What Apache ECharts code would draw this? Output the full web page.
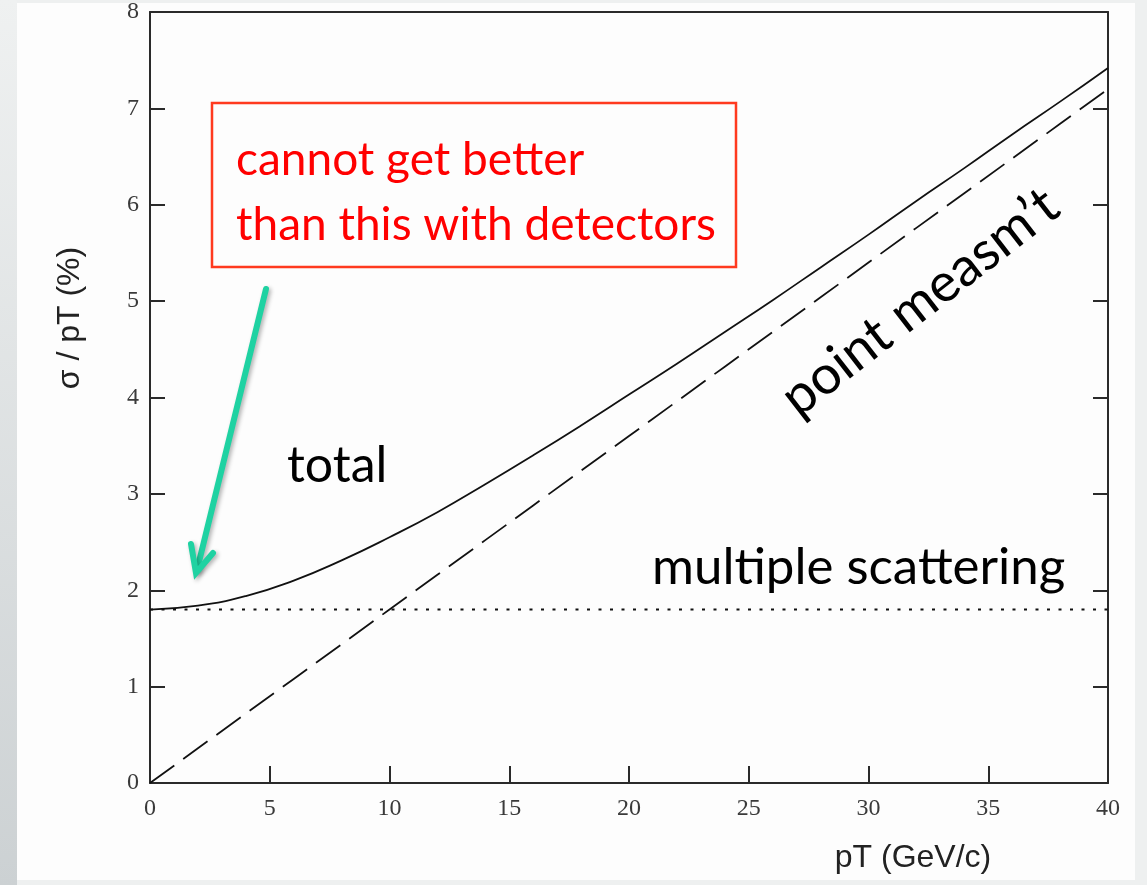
<!DOCTYPE html>
<html>
<head>
<meta charset="utf-8">
<script src="https://cdn.jsdelivr.net/npm/echarts@6/dist/echarts.min.js"></script>
<style>
html,body{margin:0;padding:0;}
#c{width:1147px;height:885px;
background:
 linear-gradient(#fdfdfd,#fdfdfd) 17px 3px / 1118px 877px no-repeat,
 linear-gradient(to bottom,#eff1f1,#ccd1d3) 0 0 / 17px 885px no-repeat,
 #eef0f0;}
</style>
</head>
<body>
<div id="c"></div>
<script>
// pT grid (GeV/c)
const pT = [0,2,4,6,8,10,12,14,16,18,20,22,24,26,28,30,32,34,36,38,40];
// total resolution sigma/pT (%)
const totalRes = [1.80,1.84,1.94,2.10,2.31,2.55,2.81,3.10,3.40,3.71,4.03,4.35,4.68,5.01,5.35,5.69,6.04,6.38,6.73,7.07,7.42];
// point measurement contribution (%)
const pointMeas = [0.00,0.36,0.72,1.08,1.44,1.80,2.16,2.52,2.88,3.24,3.60,3.96,4.32,4.68,5.04,5.40,5.76,6.12,6.48,6.84,7.20];
// multiple scattering contribution (%)
const multScatt = [1.80,1.80,1.80,1.80,1.80,1.80,1.80,1.80,1.80,1.80,1.80,1.80,1.80,1.80,1.80,1.80,1.80,1.80,1.80,1.80,1.80];
// axis ranges / ticks
const xRange = [0, 40, 5];
const yRange = [0, 8, 1];

const zip = (xs, ys) => xs.map((x, i) => [x, ys[i]]);

const axisCol = '#2a2a2a';
const tickFont = {fontFamily: 'Liberation Serif', fontSize: 24, color: '#3a3a3a'};
const anno = 'Lato';

const chart = echarts.init(document.getElementById('c'), null, {renderer: 'canvas'});
chart.setOption({
  backgroundColor: 'transparent',
  animation: false,
  grid: {left: 150, right: 39, top: 12, bottom: 102},
  xAxis: [{
    type: 'value', min: xRange[0], max: xRange[1], interval: xRange[2], position: 'bottom',
    axisLine: {show: true, onZero: false, lineStyle: {color: axisCol, width: 2}},
    axisTick: {show: true, inside: true, length: 17, lineStyle: {color: axisCol, width: 2}},
    axisLabel: Object.assign({margin: 14}, tickFont),
    splitLine: {show: false}
  }, {
    type: 'value', min: xRange[0], max: xRange[1], interval: xRange[2], position: 'top',
    axisLine: {show: true, onZero: false, lineStyle: {color: axisCol, width: 2}},
    axisTick: {show: false}, axisLabel: {show: false}, splitLine: {show: false}
  }],
  yAxis: [{
    type: 'value', min: yRange[0], max: yRange[1], interval: yRange[2], position: 'left',
    axisLine: {show: true, onZero: false, lineStyle: {color: axisCol, width: 2}},
    axisTick: {show: true, inside: true, length: 15, lineStyle: {color: axisCol, width: 2}},
    axisLabel: Object.assign({margin: 11}, tickFont),
    splitLine: {show: false}
  }, {
    type: 'value', min: yRange[0], max: yRange[1], interval: yRange[2], position: 'right',
    axisLine: {show: true, onZero: false, lineStyle: {color: axisCol, width: 2}},
    axisTick: {show: true, inside: true, length: 15, lineStyle: {color: axisCol, width: 2}},
    axisLabel: {show: false}, splitLine: {show: false}
  }],
  series: [{
    name: 'total', type: 'line', data: zip(pT, totalRes), showSymbol: false, smooth: true,
    lineStyle: {color: '#111', width: 1.8}
  }, {
    name: 'point measm\u2019t', type: 'line', data: zip(pT, pointMeas), showSymbol: false,
    lineStyle: {color: '#111', width: 1.8, type: [30, 11]}
  }, {
    name: 'multiple scattering', type: 'line', data: zip(pT, multScatt), showSymbol: false,
    lineStyle: {color: '#111', width: 2, type: [3, 8.5]}
  }],
  graphic: [
    {type: 'text', x: 70, y: 318, rotation: Math.PI / 2, style: {text: '\u03c3 / pT (%)', fontFamily: 'Liberation Sans', fontSize: 32, fill: '#222', align: 'center', verticalAlign: 'middle'}},
    {type: 'text', x: 913, y: 858, style: {text: 'pT (GeV/c)', fontFamily: 'Liberation Sans', fontSize: 32, fill: '#222', align: 'center', verticalAlign: 'middle'}},
    {type: 'rect', shape: {x: 212, y: 103, width: 524, height: 164}, style: {fill: 'none', stroke: '#ff3a1f', lineWidth: 2.5}},
    {type: 'text', x: 236, y: 160, style: {text: 'cannot get better', fontFamily: anno, fontSize: 46, fill: '#ff0000', align: 'left', verticalAlign: 'middle'}},
    {type: 'text', x: 236, y: 225, style: {text: 'than this with detectors', fontFamily: anno, fontSize: 46, fill: '#ff0000', align: 'left', verticalAlign: 'middle'}},
    {type: 'text', x: 287, y: 466, style: {text: 'total', fontFamily: anno, fontSize: 50, fill: '#000', align: 'left', verticalAlign: 'middle'}},
    {type: 'text', x: 652, y: 568, style: {text: 'multiple scattering', fontFamily: anno, fontSize: 51, fill: '#000', align: 'left', verticalAlign: 'middle'}},
    {type: 'text', x: 920, y: 302, rotation: 0.66, style: {text: 'point measm\u2019t', fontFamily: anno, fontSize: 54, fill: '#000', align: 'center', verticalAlign: 'middle'}},
    {type: 'polyline', shape: {points: [[266, 289], [197, 570]]}, style: {stroke: '#1fd2a2', lineWidth: 6, lineCap: 'round', shadowBlur: 4, shadowColor: 'rgba(0,0,0,0.3)', shadowOffsetX: 2, shadowOffsetY: 2}},
    {type: 'polyline', shape: {points: [[191, 544], [196, 573], [213, 553]]}, style: {stroke: '#1fd2a2', lineWidth: 6, lineCap: 'round', lineJoin: 'miter', fill: 'none', shadowBlur: 4, shadowColor: 'rgba(0,0,0,0.3)', shadowOffsetX: 2, shadowOffsetY: 2}}
  ]
});
</script>
</body>
</html>
